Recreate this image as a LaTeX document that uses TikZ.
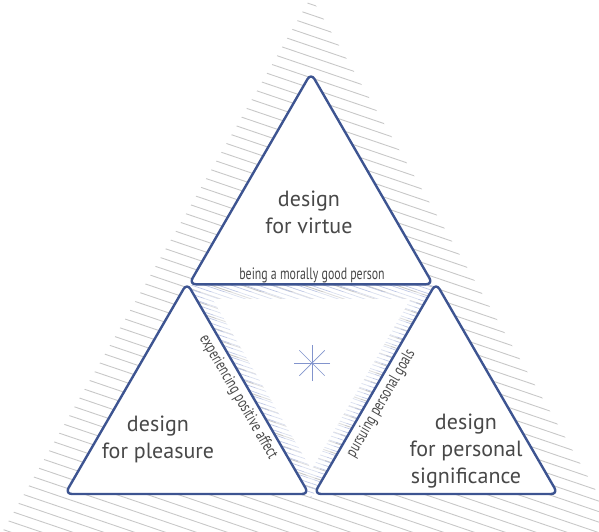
\documentclass[tikz,border=0pt]{standalone}
\usepackage{fontspec}
\setmainfont{PT Sans}
\newfontfamily\narrowfont[FakeStretch=0.72]{PT Sans}
\usepackage{xcolor}
\usetikzlibrary{calc}
\definecolor{triblue}{RGB}{61,84,145}
\definecolor{hatchgray}{RGB}{200,200,200}
\definecolor{hatchblue}{RGB}{190,199,228}
\definecolor{textgray}{RGB}{72,72,72}
\definecolor{starblue}{RGB}{130,148,205}

\begin{document}
\begin{tikzpicture}[x=1pt, y=-1pt,
	tri/.style={draw=triblue, line width=2.4pt, rounded corners=7pt, fill=white, line join=round},
	bigtext/.style={font=\fontsize{22}{27}\selectfont, text=textgray, align=center},
	edgetext/.style={font=\narrowfont\fontsize{16.5}{18}\selectfont, text=textgray, inner sep=2pt}]
			
			\useasboundingbox (0,0) rectangle (599,531);
			\clip (0,0) rectangle (599,531);
			
			% Corners
			\coordinate (bigtop) at (311,-3);
			\coordinate (bigleft) at (-37,600);
			\coordinate (bigright) at (659,600);
			\coordinate (vtop) at (311,73);
			\coordinate (vl) at (189,284.3);
			\coordinate (vr) at (433,284.3);
			\coordinate (pa) at (187,283);
			\coordinate (pl) at (65,494);
			\coordinate (pr) at (309,494);
			\coordinate (sa) at (436,283);
			\coordinate (sl) at (314,494);
			\coordinate (sr) at (558,494);
			\coordinate (star) at (312,363);
			
			% Outer hatching
			\begin{scope}
				\clip (bigtop) -- (bigleft) -- (bigright) -- cycle;
				\foreach \k in {-12,...,61} {
					\draw[hatchgray, line width=0.9pt] (-10,{-91+10.5*\k-3.4}) -- (610,{-91+10.5*\k+207.4});
				}
			\end{scope}
			
			% Inner hatching, fading inwards
			\begin{scope}
				\clip (188,285) -- (435,285) -- (311.5,498) -- cycle;
				\foreach \c in {130,134.5,...,440} {
					\draw[hatchblue, line width=0.7pt] (150,{\c+51}) -- (470,{\c+159.8});
				}
				\fill[white, opacity=0.45] (200.5,292) -- (422.5,292) -- (311.5,484) -- cycle;
				\fill[white] (212.7,299.2) -- (410.3,299.2) -- (311.5,469.6) -- cycle;
			\end{scope}
			
			% Star
			\foreach \a in {0,45,90,135} {
				\draw[starblue, line width=0.7pt] ($(star)+(\a:18)$) -- ($(star)+(\a+180:18)$);
			}
			
			% Triangles
			\draw[tri] (vtop) -- (vr) -- (vl) -- cycle;
			\draw[tri] (pa) -- (pr) -- (pl) -- cycle;
			\draw[tri] (sa) -- (sr) -- (sl) -- cycle;
			
			% Labels
			\node[bigtext] (virtue) at (309,212) {design\\for virtue};
			\node[bigtext] (pleasure) at (158,439.5) {design\\for pleasure};
			\node[bigtext] (significance) at (466,451) {design\\for personal\\significance};
			
			\node[edgetext, anchor=base] (moral) at (312,279) {being a morally good person};
			\path (pa) -- (pr) node[edgetext, pos=0.51, sloped, below=3pt] (affect) {experiencing positive affect};
			\path (sl) -- (sa) node[edgetext, pos=0.46, sloped, below=3pt] (goals) {pursuing personal goals};
			
\end{tikzpicture}
\end{document}
